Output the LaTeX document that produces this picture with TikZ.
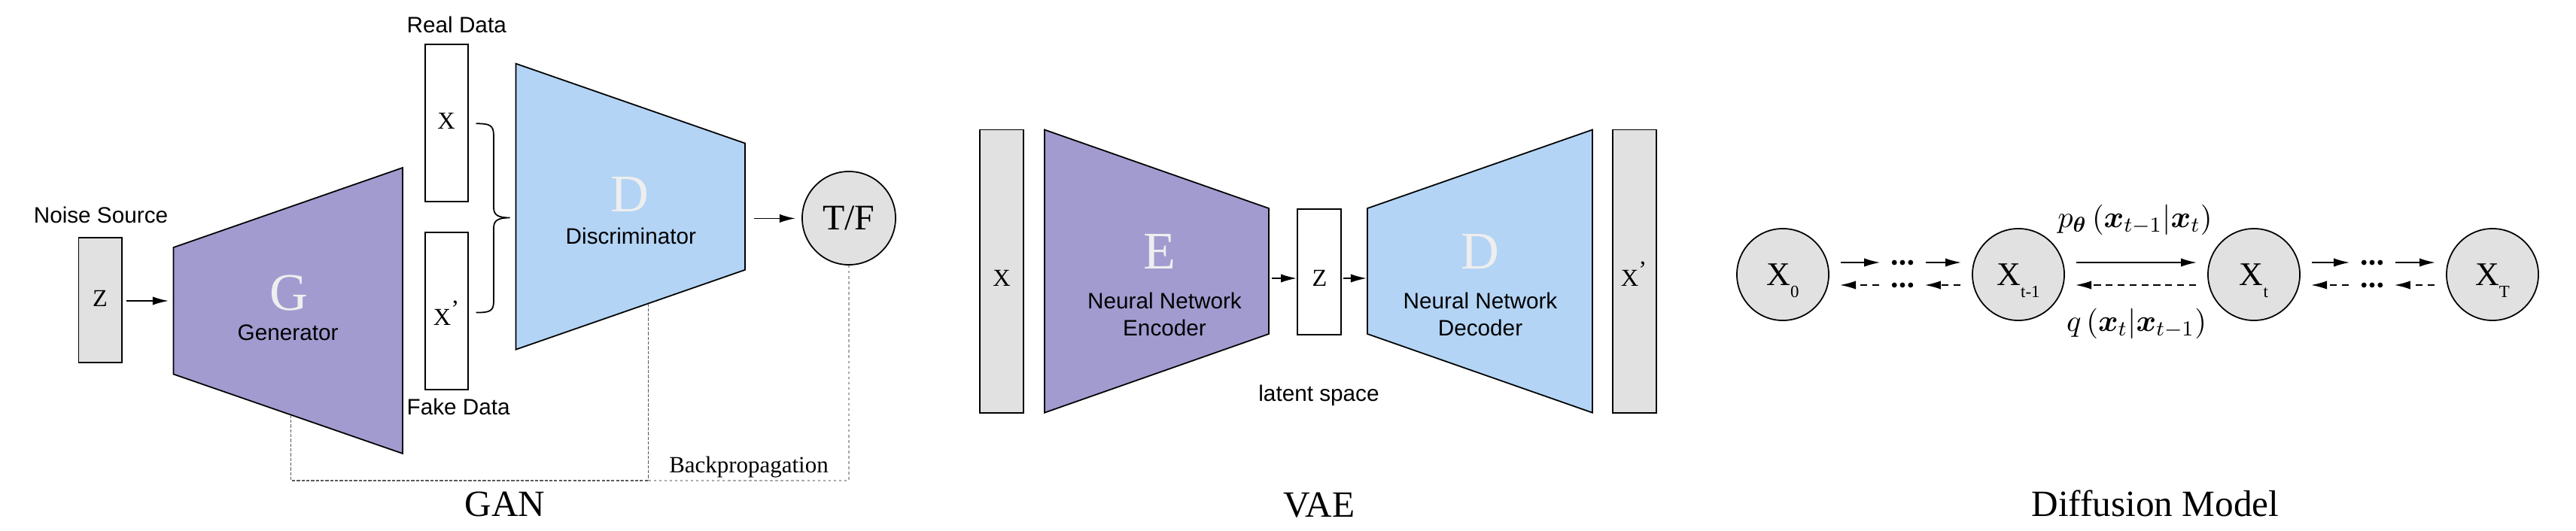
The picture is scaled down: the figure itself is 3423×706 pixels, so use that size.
\RequirePackage{fix-cm}
\documentclass[tikz,border=0pt]{standalone}
\usepackage{amsmath}
\usepackage{bm}
\usepackage[no-math]{fontspec}
\setmainfont{Liberation Serif}
\setsansfont{Liberation Sans}
\usetikzlibrary{arrows.meta}

\definecolor{encpurple}{RGB}{161,155,208}
\definecolor{decblue}{RGB}{179,212,245}
\definecolor{boxgray}{RGB}{225,225,225}
\definecolor{ghost}{RGB}{238,238,238}
\definecolor{bpdarkcol}{RGB}{90,90,90}
\definecolor{bplightcol}{RGB}{170,170,170}

\newcommand{\dsub}[1]{\raisebox{-4.5pt}[0pt][0pt]{\fontsize{6.5}{7}\selectfont #1}}
\newcommand{\prm}{\raisebox{3pt}{’}}

\begin{document}
\begin{tikzpicture}[x=0.01cm,y=-0.01cm,
  shp/.style={draw=black, line width=0.5pt},
  vbox/.style={shp, inner sep=0pt, minimum width=0.575cm},
  sanslbl/.style={font=\sffamily\fontsize{8.45}{10}\selectfont, inner sep=0pt, anchor=base},
  seriflbl/.style={font=\fontsize{9.2}{11}\selectfont, inner sep=0pt, anchor=base},
  titlelbl/.style={font=\fontsize{14}{16}\selectfont, inner sep=0pt, anchor=base},
  bigletter/.style={font=\fontsize{20}{22}\selectfont, text=ghost, inner sep=0pt, anchor=base},
  arr/.style={-{Latex[length=6pt,width=3.2pt]}, line width=0.5pt},
  backarr/.style={arr, dash pattern=on 2.6pt off 1.9pt},
  bpline/.style={draw=bpdarkcol, line width=0.3pt, dash pattern=on 1.2pt off 0.6pt},
  bplightline/.style={draw=bplightcol, line width=0.3pt, dash pattern=on 1pt off 1pt},
  dnode/.style={circle, shp, fill=boxgray, minimum size=1.22cm, inner sep=0pt, font=\fontsize{12.5}{14}\selectfont},
  dotgroup/.style={minimum width=0.3cm, minimum height=0.08cm, inner sep=0pt,
    path picture={\foreach \dx in {-0.108,0,0.108}{\fill ([xshift=\dx cm]path picture bounding box.center) circle[radius=0.034cm];}}},
  mathlbl/.style={inner sep=0pt, font=\fontsize{11.5}{13}\selectfont},
  gapped/.style={shorten <=0.15cm, shorten >=0.14cm},
]
\useasboundingbox (0,0) rectangle (3423,706);

% ================= GAN =================
\node[sanslbl] (noise) at (134,296) {Noise Source};
\node[vbox, fill=boxgray, minimum height=1.66cm] (zg) at (133.25,399) {};
\node[seriflbl] (zgt) at (133,407.5) {Z};

\coordinate (Gtl) at (230.5,329);
\coordinate (Gtr) at (535,223);
\coordinate (Gbr) at (535,603);
\coordinate (Gbl) at (230.5,497.5);
\draw[shp, fill=encpurple] (Gtl) -- (Gtr) -- (Gbr) -- (Gbl) -- cycle;
\node[bigletter] (Gl) at (384,412) {G};
\node[sanslbl] (Gtxt) at (382.6,452.5) {Generator};

\coordinate (Gin) at (224,400);
\draw[arr, shorten <=0.05cm] (zg.east |- Gin) -- (Gin);

\node[sanslbl, anchor=base west] (real) at (540,44) {Real Data};
\node[vbox, fill=white, minimum height=2.09cm] (xr) at (593.5,163.5) {};
\node[seriflbl] (xrt) at (593,171) {X};
\node[vbox, fill=white, minimum height=2.09cm] (xf) at (593.5,413.5) {};
\node[seriflbl] (xft) at (593,432) {X\prm};
\node[sanslbl, anchor=base west] (fake) at (540,551.5) {Fake Data};

\draw[line width=0.5pt] (632.6,164.3) .. controls (650,164.3) and (656,166) .. (656,180)
  -- (656,276) .. controls (656,286) and (662,289.5) .. (677.6,289.5)
  .. controls (662,289.5) and (656,293) .. (656,303)
  -- (656,401) .. controls (656,414) and (650,415.6) .. (632.6,415.6);

\coordinate (Dtl) at (685.5,84.6);
\coordinate (Dtr) at (990,190.5);
\coordinate (Dbr) at (990,358.8);
\coordinate (Dbl) at (685.5,464.7);
\draw[shp, fill=decblue] (Dtl) -- (Dtr) -- (Dbr) -- (Dbl) -- cycle;
\node[bigletter] (Dl) at (837,281) {D};
\node[sanslbl] (Dtxt) at (838.4,324) {Discriminator};

\node[circle, shp, fill=boxgray, minimum size=1.24cm, inner sep=0pt, font=\fontsize{13.6}{15}\selectfont] (tf) at (1128,290) {T/F};
\coordinate (Dout) at (1002,290.4);
\draw[arr, shorten >=0.08cm] (Dout) -- (tf.west |- Dout);

\coordinate (gbot) at (386.8,551.7);
\coordinate (dbot) at (861.5,403.5);
\coordinate (bpcorner) at (386.8,639);
\coordinate (bpmid) at (861.5,639);
\coordinate (bpend) at (1128,639);
\draw[bpline] (gbot) -- (bpcorner) -- (bpmid);
\draw[bpline] (dbot) -- (bpmid);
\draw[bplightline] (bpmid) -- (bpend);
\draw[bplightline] (tf.south) -- (bpend);
\node[font=\fontsize{8.8}{10}\selectfont, inner sep=0pt, anchor=base] (bptxt) at (995,628) {Backpropagation};
\node[titlelbl] (gan) at (671,686.6) {GAN};

% ================= VAE =================
\node[vbox, fill=boxgray, minimum width=0.58cm, minimum height=3.762cm] (vx) at (1331,360.6) {};
\node[seriflbl] (vxt) at (1331,380) {X};

\coordinate (Etl) at (1388,172.5);
\coordinate (Etr) at (1686,277);
\coordinate (Ebr) at (1686,444);
\coordinate (Ebl) at (1388,548.7);
\draw[shp, fill=encpurple] (Etl) -- (Etr) -- (Ebr) -- (Ebl) -- cycle;
\node[bigletter] (El) at (1541.4,357.3) {E};
\node[sanslbl] (enc1) at (1547.5,410) {Neural Network};
\node[sanslbl] (enc2) at (1547.5,446) {Encoder};

\node[vbox, fill=white, minimum width=0.576cm, minimum height=1.67cm] (vz) at (1752.8,361.5) {};
\node[seriflbl] (vzt) at (1753.5,380) {Z};

\coordinate (Eout) at (1690,370);
\draw[arr] (Eout) -- (vz.west |- Eout);
\coordinate (Din) at (1816,370);
\draw[arr, shorten <=0.025cm] (vz.east |- Din) -- (Din);

\coordinate (VDtl) at (1817,277);
\coordinate (VDtr) at (2116,172.5);
\coordinate (VDbr) at (2116,548.7);
\coordinate (VDbl) at (1817,444);
\draw[shp, fill=decblue] (VDtl) -- (VDtr) -- (VDbr) -- (VDbl) -- cycle;
\node[bigletter] (Dvl) at (1966.5,357.3) {D};
\node[sanslbl] (dec1) at (1967,410) {Neural Network};
\node[sanslbl] (dec2) at (1967,446) {Decoder};

\node[vbox, fill=boxgray, minimum width=0.58cm, minimum height=3.762cm] (vxp) at (2172,360.6) {};
\node[seriflbl] (vxpt) at (2171,380) {X\prm};

\node[sanslbl] (latent) at (1752.5,533.5) {latent space};
\node[titlelbl] (vae) at (1753,687) {VAE};

% ================= Diffusion =================
\node[dnode] (X0) at (2369,365) {X\dsub{0}};
\node[dnode] (Xt1) at (2682,365) {X\dsub{t-1}};
\node[dnode] (Xt) at (2995,365) {X\dsub{t}};
\node[dnode] (XT) at (3312,365) {X\dsub{T}};

\node[dotgroup] (dA) at (2528,349) {};
\node[dotgroup] (dAb) at (2528,379) {};
\node[dotgroup] (dB) at (3152,349) {};
\node[dotgroup] (dBb) at (3152,379) {};

\draw[arr, gapped] (X0.east |- dA) -- (dA.west);
\draw[arr, gapped] (dA.east) -- (Xt1.west |- dA);
\draw[arr, gapped] (Xt1.east |- dA) -- (Xt.west |- dA);
\draw[arr, gapped] (Xt.east |- dB) -- (dB.west);
\draw[arr, gapped] (dB.east) -- (XT.west |- dB);

\draw[backarr, gapped] (dAb.west) -- (X0.east |- dAb);
\draw[backarr, gapped] (Xt1.west |- dAb) -- (dAb.east);
\draw[backarr, gapped] (Xt.west |- dAb) -- (Xt1.east |- dAb);
\draw[backarr, gapped] (dBb.west) -- (Xt.east |- dBb);
\draw[backarr, gapped] (XT.west |- dBb) -- (dBb.east);

\node[mathlbl] (plbl) at (2837,292.7) {$p_{\bm\theta}\left(\bm x_{t-1}\middle|\bm x_t\right)$};
\node[mathlbl] (qlbl) at (2839,430) {$q\left(\bm x_t\middle|\bm x_{t-1}\right)$};

\node[titlelbl] (diff) at (2864,686) {Diffusion Model};
\end{tikzpicture}
\end{document}
